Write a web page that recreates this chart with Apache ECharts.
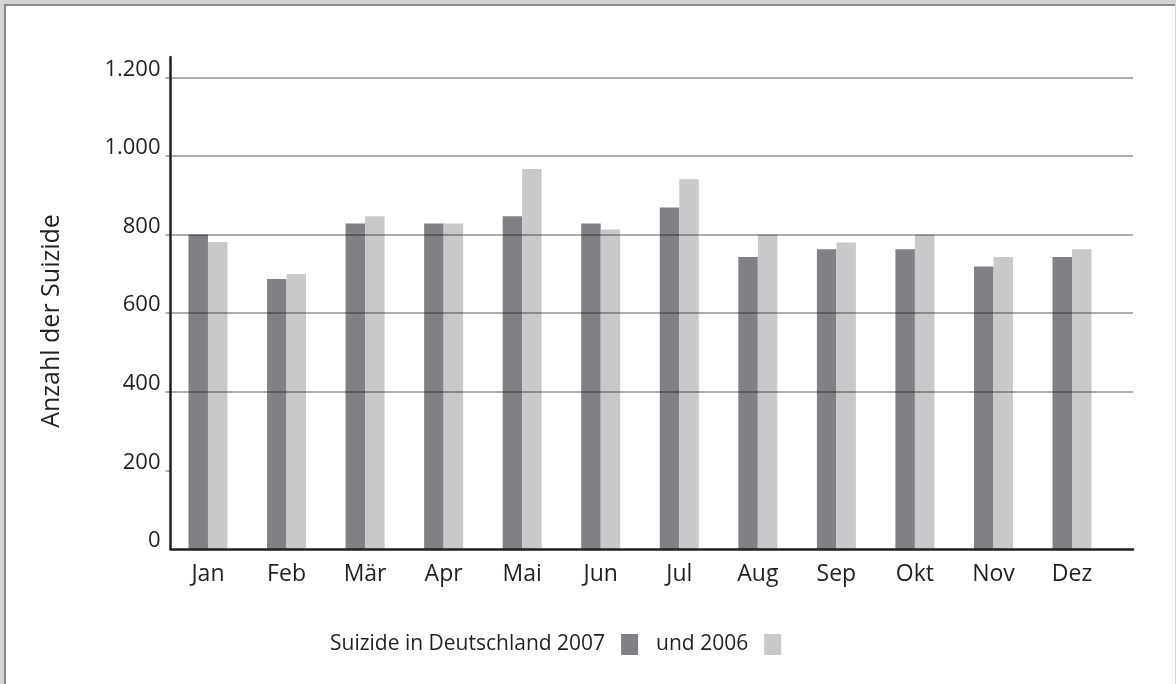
<!DOCTYPE html>
<html>
<head>
<meta charset="utf-8">
<script src="https://cdn.jsdelivr.net/npm/echarts@6/dist/echarts.min.js"></script>
<style>
  html, body { margin: 0; padding: 0; }
  body { width: 1176px; height: 684px; background: #d4d4d6; position: relative; overflow: hidden; }
  #frame { position: absolute; left: 4px; top: 4px; width: 1169px; height: 690px; background: #fff;
           border-left: 2px solid #8a8a8c; border-top: 2px solid #8a8a8c; }
  #chart { position: absolute; left: 0; top: 0; width: 1176px; height: 684px; }
</style>
</head>
<body>
<div id="frame"></div>
<div id="chart"></div>
<script>
const months = ['Jan', 'Feb', 'Mär', 'Apr', 'Mai', 'Jun', 'Jul', 'Aug', 'Sep', 'Okt', 'Nov', 'Dez'];
const values2007 = [800, 687, 828, 828, 847, 828, 869, 743, 763, 763, 719, 743];
const values2006 = [781, 700, 847, 828, 967, 813, 941, 800, 780, 800, 743, 763];
const seriesNames = ['Suizide in Deutschland 2007', 'und 2006'];
const yTicks = [0, 200, 400, 600, 800, 1000, 1200];
const yAxisTitle = 'Anzahl der Suizide';

const FONT = '"Open Sans", "Noto Sans", sans-serif';
const TXT = '#231f20';
const YMAX = 1252;

const chart = echarts.init(document.getElementById('chart'), null, { renderer: 'canvas' });

const fmt = v => {
  const s = String(v);
  return s.length > 3 ? s.slice(0, s.length - 3) + '.' + s.slice(-3) : s;
};

chart.setOption({
  backgroundColor: 'transparent',
  animation: false,
  textStyle: { fontFamily: FONT },
  grid: [
    { left: 170.5, right: 43, top: 57, bottom: 135 },
    { left: 168.7, right: 64.7, top: 57, bottom: 135 }
  ],
  xAxis: [
    {
      gridIndex: 0, type: 'value', min: 0, max: 1, z: 5,
      axisLine: { show: true, lineStyle: { color: TXT, width: 2.5 } },
      axisTick: { show: false }, axisLabel: { show: false }, splitLine: { show: false }
    },
    {
      gridIndex: 1, type: 'category', data: months,
      axisLine: { show: false }, axisTick: { show: false },
      axisLabel: { color: TXT, fontSize: 23, lineHeight: 23, fontFamily: FONT, margin: 14 }
    }
  ],
  yAxis: [
    {
      gridIndex: 0, type: 'value', min: 0, max: YMAX, interval: 200, z: 5,
      axisLine: { show: true, lineStyle: { color: TXT, width: 2.5 } },
      axisTick: { show: true, length: 5, customValues: yTicks.filter(v => v > 0),
                  lineStyle: { color: 'rgba(27,27,27,0.36)', width: 2 } },
      splitLine: { show: true, showMinLine: false,
                   lineStyle: { color: 'rgba(27,27,27,0.36)', width: 2 } },
      axisLabel: {
        customValues: yTicks,
        color: TXT, fontSize: 22, fontFamily: FONT, margin: 10,
        verticalAlign: 'bottom', lineHeight: 16,
        formatter: fmt
      }
    },
    { gridIndex: 1, type: 'value', min: 0, max: YMAX, show: false }
  ],
  legend: {
    data: seriesNames,
    left: 330, top: 634, padding: 0,
    align: 'right', itemWidth: 17, itemHeight: 21, itemGap: 18,
    icon: 'rect',
    textStyle: { color: TXT, fontSize: 21, fontFamily: FONT, padding: [0, 11, 0, 0] }
  },
  graphic: [
    {
      type: 'text', x: 52, y: 321, rotation: Math.PI / 2,
      style: { text: yAxisTitle, fill: TXT, font: '25px ' + FONT, align: 'center', verticalAlign: 'middle' }
    }
  ],
  series: [
    {
      name: seriesNames[0], type: 'bar', xAxisIndex: 1, yAxisIndex: 1,
      data: values2007, barWidth: 19.5, barGap: '0%',
      itemStyle: { color: '#808184' }
    },
    {
      name: seriesNames[1], type: 'bar', xAxisIndex: 1, yAxisIndex: 1,
      data: values2006, barWidth: 19.5, barGap: '0%',
      itemStyle: { color: '#c8c9cb' }
    }
  ]
});
</script>
</body>
</html>
